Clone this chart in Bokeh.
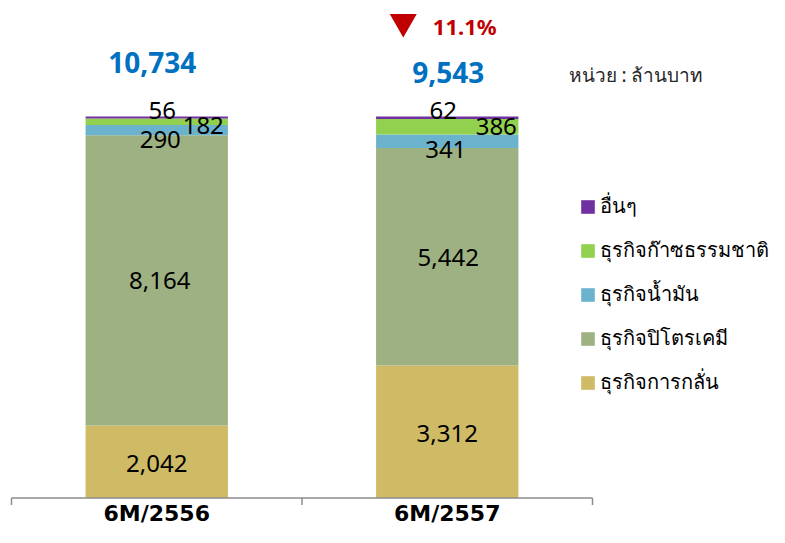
import math
from bokeh.plotting import figure
from bokeh.models import (Range1d, LinearAxis, FixedTicker, ColumnDataSource,
                          Legend, LegendItem, Label)
from bokeh.core.properties import value
from bokeh.embed import file_html
from bokeh.resources import INLINE

# ---------------- data ----------------
periods = ["6M/2556", "6M/2557"]
segments = ["refining", "petrochem", "oil", "gas", "other"]
segment_names = ["ธุรกิจการกลั่น", "ธุรกิจปิโตรเคมี", "ธุรกิจน้ำมัน", "ธุรกิจก๊าซธรรมชาติ", "อื่นๆ"]
refining = [2042, 3312]
petrochem = [8164, 5442]
oil = [290, 341]
gas = [182, 386]
other = [56, 62]
unit_text = "หน่วย : ล้านบาท"

# ---------------- styles ----------------
colors = ["#CFBA66", "#9EB182", "#6BB3CD", "#92D050", "#7030A0"]
W, H = 769, 527
AXIS_X0 = 11            # px where the category axis starts
CAT_PX = 290.5          # px per category
BASE_Y = 497.5          # px from top where 0% sits
PX_PER_UNIT = 381.5     # px per 100%
FONT = "Noto Sans"
label_dx = {"refining": [0, 0], "petrochem": [3, 1], "oil": [3.5, -1.5],
            "gas": [46.5, 49], "other": [5.5, -4]}
label_dy = {"refining": [1.5, 1.5], "petrochem": [0, 1], "oil": [9, 8],
            "gas": [4, 0], "other": [-7, -7]}
total_dx = [-4.5, 1]
total_dy = [-54, -44.5]

series = {"refining": refining, "petrochem": petrochem, "oil": oil, "gas": gas, "other": other}
totals = [sum(series[s][i] for s in segments) for i in range(len(periods))]
shares = {s: [series[s][i] / totals[i] for i in range(len(periods))] for s in segments}
xs = [i + 0.5 for i in range(len(periods))]

src = ColumnDataSource(dict(x=xs, period=periods, **shares))

x_start = -AXIS_X0 / CAT_PX
x_end = (W - AXIS_X0) / CAT_PX
y_start = -(H - BASE_Y) / PX_PER_UNIT
y_end = BASE_Y / PX_PER_UNIT

p = figure(width=W, height=H, x_range=Range1d(x_start, x_end),
           y_range=Range1d(y_start, y_end), output_backend="svg",
           toolbar_location=None, x_axis_location=None, y_axis_location=None,
           min_border=0)
p.min_border_left = 0
p.min_border_right = 0
p.min_border_top = 0
p.min_border_bottom = 0
p.outline_line_color = None
p.xgrid.visible = False
p.ygrid.visible = False
p.background_fill_color = "white"

rends = p.vbar_stack(segments, x="x", width=0.49, source=src,
                     fill_color=colors, line_color=None)

# category axis (labels only) fixed at the 0 line
ax = LinearAxis(fixed_location=0, ticker=FixedTicker(ticks=xs),
                major_label_overrides={x: per for x, per in zip(xs, periods)},
                major_tick_out=0, major_tick_in=0, minor_tick_out=0, minor_tick_in=0,
                axis_line_color=None,
                major_label_text_font="DejaVu Sans",
                major_label_text_font_size="22px",
                major_label_text_font_style="bold",
                major_label_text_color="black",
                major_label_standoff=3)
p.add_layout(ax, "below")

# base line and boundary ticks
bounds = list(range(len(periods) + 1))
p.segment(x0=bounds[0], y0=0, x1=bounds[-1], y1=0, line_color="#8C8C8C", line_width=1.5)
p.ray(x=bounds, y=0, length=7, length_units="screen", angle=-math.pi / 2,
      line_color="#8C8C8C", line_width=1.5)

# segment labels
lx, ly, lt, ldx, ldy = [], [], [], [], []
for i, xv in enumerate(xs):
    cum = 0.0
    for s in segments:
        sh = shares[s][i]
        lx.append(xv)
        ly.append(cum + sh / 2)
        lt.append(f"{series[s][i]:,}")
        ldx.append(label_dx[s][i])
        ldy.append(label_dy[s][i])
        cum += sh
lab_src = ColumnDataSource(dict(x=lx, y=ly, text=lt, dx=ldx, dy=ldy))
p.text(x="x", y="y", text="text", x_offset="dx", y_offset="dy", source=lab_src,
       text_font=value(FONT), text_font_size="24px", text_color="black",
       text_align="center", text_baseline="middle")

# totals
tot_src = ColumnDataSource(dict(x=xs, y=[1.0] * len(xs), text=[f"{t:,}" for t in totals],
                                dx=total_dx, dy=total_dy))
p.text(x="x", y="y", text="text", x_offset="dx", y_offset="dy", source=tot_src,
       text_font=value(FONT), text_font_size="28px", text_font_style="bold",
       text_color="#0070C0", text_align="center", text_baseline="middle")

# change indicator
change = (totals[1] - totals[0]) / totals[0]
chg_src = ColumnDataSource(dict(x=[xs[1]], y=[1.0], text=[f"{abs(change) * 100:.1f}%"]))
p.text(x="x", y="y", text="text", x_offset=17.5, y_offset=-90.5, source=chg_src,
       text_font=value(FONT), text_font_size="22px", text_font_style="bold",
       text_color="#C00000", text_align="center", text_baseline="middle")
p.scatter(x=xs[1] - 44 / CAT_PX, y=(BASE_Y - 21.3) / PX_PER_UNIT, marker="inverted_triangle",
          size=27, fill_color="#C00000", line_color=None)

# unit label
p.add_layout(Label(x=(568 - AXIS_X0) / CAT_PX, y=(BASE_Y - 74) / PX_PER_UNIT, text=unit_text,
                   text_font=FONT, text_font_size="19px", text_color="#262626",
                   text_align="left", text_baseline="middle"))

# legend
items = [LegendItem(label=segment_names[k], renderers=[rends[k]]) for k in reversed(range(len(segments)))]
legend = Legend(items=items, location=(579, 129), padding=0, margin=0, spacing=12,
                glyph_width=17, glyph_height=17, label_height=19, label_standoff=4,
                label_text_font=FONT, label_text_font_size="20px", label_text_color="black",
                border_line_color=None, background_fill_alpha=0)
p.add_layout(legend, "center")

open("out.html", "w").write(file_html(p, INLINE))
